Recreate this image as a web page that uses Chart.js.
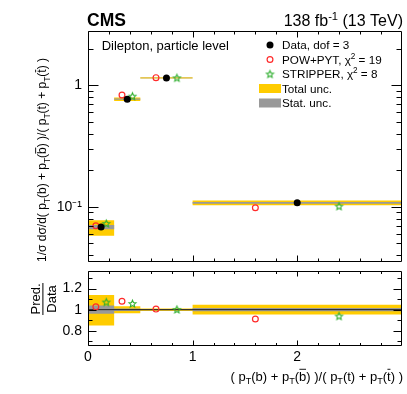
<!DOCTYPE html>
<html><head><meta charset="utf-8">
<script src="https://cdn.jsdelivr.net/npm/chart.js@4.4.1/dist/chart.umd.min.js"></script>
<style>
html,body{margin:0;padding:0;background:#fff;}
#wrap{position:relative;width:407px;height:394px;overflow:hidden;background:#fff;}
canvas{position:absolute;left:0;}
#cMain{top:0;}
#cRatio{top:266px;}
</style></head><body>
<div id="wrap">
<canvas id="cMain" width="407" height="267"></canvas>
<canvas id="cRatio" width="407" height="128"></canvas>
</div>
<script>
// ---- data ----
const binEdges = [0, 0.25, 0.5, 1, 3];
const dataVals = [0.068, 0.771, 1.153, 0.1077];
const powVals = [0.0698, 0.833, 1.159, 0.0982];
const stripVals = [0.0729, 0.816, 1.156, 0.1012];
const totUpRel = [0.14, 0.033, 0.012, 0.046];
const totDnRel = [0.15, 0.033, 0.012, 0.046];
const statRel = [0.04, 0.012, 0.005, 0.016];

const mainYMajor = [0.1, 1];
const mainYLabels = ['10\u207B\u00B9', '1'];
const mainYMinor = [0.04,0.05,0.06,0.07,0.08,0.09,0.2,0.3,0.4,0.5,0.6,0.7,0.8,0.9,2];
const ratioYMajor = [0.8, 1, 1.2];
const ratioYLabels = ['0.8', '1', '1.2'];
const ratioYMinor = [0.7, 0.9, 1.1, 1.3];
const xMajor = [0, 1, 2];
const xLabels = ['0', '1', '2'];
const xMinor = [0.2,0.4,0.6,0.8,1.2,1.4,1.6,1.8,2.2,2.4,2.6,2.8];

const legendLabels = ['Data, dof = 3', 'POW+PYT, \u03C7', 'STRIPPER, \u03C7', 'Total unc.', 'Stat. unc.'];
const chi2 = [null, '19', '8'];

const YELLOW = '#ffcc00', GRAY = '#999999', RED = '#ff2a2a', GREEN = '#2eae2e';
const FAM = '"Liberation Sans", Arial, Helvetica, sans-serif';

Chart.defaults.font.family = FAM;
Chart.defaults.color = '#000';

// ---- helpers ----
const centers = dataVals.map((_, i) => (binEdges[i] + binEdges[i+1]) / 2);
const widths = dataVals.map((_, i) => binEdges[i+1] - binEdges[i]);
const xPow = centers.map((c, i) => c - 0.2 * widths[i]);
const xStrip = centers.map((c, i) => c + 0.2 * widths[i]);
function stepPts(vals) {
  const pts = [];
  vals.forEach((v, i) => { pts.push({x: binEdges[i], y: v}, {x: binEdges[i+1], y: v}); });
  return pts;
}
function makeStar(color, r) {
  const s = Math.ceil(2 * r + 3);
  const c = document.createElement('canvas'); c.width = s; c.height = s;
  const g = c.getContext('2d'); g.strokeStyle = color; g.lineWidth = 1.1; g.beginPath();
  for (let i = 0; i < 10; i++) {
    const ang = -Math.PI / 2 + i * Math.PI / 5;
    const rr = i % 2 === 0 ? r : r * 0.45;
    const px = s / 2 + rr * Math.cos(ang), py = s / 2 + 0.4 + rr * Math.sin(ang);
    if (i) g.lineTo(px, py); else g.moveTo(px, py);
  }
  g.closePath(); g.stroke();
  return c;
}
const starImg = makeStar(GREEN, 3.7);

function drawRich(ctx, segs, x, y, fs, opts) {
  opts = opts || {};
  const weight = opts.bold ? 'bold ' : '';
  let total = 0;
  for (const s of segs) { const f = (s.sub || s.sup) ? fs * 0.7 : fs; ctx.font = weight + f + 'px ' + FAM; total += ctx.measureText(s.t).width; }
  if (opts.align === 'right') x -= total; else if (opts.align === 'center') x -= total / 2;
  ctx.textBaseline = 'alphabetic'; ctx.textAlign = 'left';
  for (const s of segs) {
    const f = (s.sub || s.sup) ? fs * 0.7 : fs;
    ctx.font = weight + f + 'px ' + FAM;
    const dy = s.sub ? fs * 0.3 : (s.sup ? -fs * 0.42 : 0);
    ctx.fillText(s.t, x, y + dy);
    const w = ctx.measureText(s.t).width;
    if (s.bar) ctx.fillRect(x + 0.3, y - fs * 0.9, w - 0.6, Math.max(0.9, fs * 0.07));
    x += w;
  }
  return total;
}
const T = {t: 'T', sub: 1};
const yTitleSegs = [{t: '1/\u03C3 d\u03C3/d( p'}, T, {t: '(b) + p'}, T, {t: '('}, {t: 'b', bar: 1}, {t: ') )/( p'}, T, {t: '(t) + p'}, T, {t: '('}, {t: 't', bar: 1}, {t: ') )'}];
const xTitleSegs = [{t: '( p'}, T, {t: '(b) + p'}, T, {t: '('}, {t: 'b', bar: 1}, {t: ') )/( p'}, T, {t: '(t) + p'}, T, {t: '('}, {t: 't', bar: 1}, {t: ') )'}];

function axesPlugin(o) {
  return { id: 'axes_' + o.name, afterDraw(chart) {
    const {ctx, chartArea: a} = chart; const xs = chart.scales.x, ys = chart.scales.y;
    ctx.save(); ctx.strokeStyle = '#000'; ctx.lineWidth = 1; ctx.beginPath();
    const L = Math.round(a.left) + 0.5, R = Math.round(a.right) - 0.5, Tp = Math.round(a.top) + 0.5, B = Math.round(a.bottom) - 0.5;
    ctx.rect(L, Tp, R - L, B - Tp);
    const xt = (vals, len) => { for (const v of vals) { const p = Math.round(xs.getPixelForValue(v)) + 0.5; ctx.moveTo(p, B); ctx.lineTo(p, B - len); ctx.moveTo(p, Tp); ctx.lineTo(p, Tp + len); } };
    const yt = (vals, len) => { for (const v of vals) { const p = Math.round(ys.getPixelForValue(v)) + 0.5; ctx.moveTo(L, p); ctx.lineTo(L + len, p); ctx.moveTo(R, p); ctx.lineTo(R - len, p); } };
    xt(xMajor, o.xMaj); xt(xMinor, o.xMin); yt(o.yMajor, o.yMaj); yt(o.yMinor, o.yMin);
    ctx.stroke(); ctx.restore();
    if (o.text) o.text(ctx, chart);
  }};
}

function bandDatasets(up, lo, color, order) {
  return [
    {data: stepPts(up), showLine: true, pointRadius: 0, borderWidth: 0, borderColor: 'rgba(0,0,0,0)', backgroundColor: color, fill: '+1', order: order},
    {data: stepPts(lo), showLine: true, pointRadius: 0, borderWidth: 0, borderColor: 'rgba(0,0,0,0)', backgroundColor: color, fill: false, order: order + 1}
  ];
}
function markerSets(xp, vp, xs, vs) {
  return [
    {data: xp.map((x, i) => ({x, y: vp[i]})), pointStyle: 'circle', pointRadius: 2.9, borderWidth: 1.2, borderColor: RED, backgroundColor: 'rgba(0,0,0,0)', order: 1},
    {data: xs.map((x, i) => ({x, y: vs[i]})), pointStyle: starImg, pointRadius: 4, order: 2}
  ];
}

// ---- main panel ----
const mainText = (ctx) => {
  ctx.save(); ctx.fillStyle = '#000';
  drawRich(ctx, [{t: 'CMS'}], 87, 26.3, 17.5, {bold: true});
  drawRich(ctx, [{t: '138 fb'}, {t: '-1', sup: 1}, {t: ' (13 TeV)'}], 403, 26.3, 16, {align: 'right'});
  drawRich(ctx, [{t: 'Dilepton, particle level'}], 101.7, 49.6, 13);
  const rows = [45, 59.5, 74, 88.5, 103]; const mx = 270, tx = 282, fs = 11.7;
  rows.forEach((ry, i) => {
    const segs = [{t: legendLabels[i]}];
    if (chi2[i]) { segs.push({t: '2', sup: 1}); segs.push({t: ' = ' + chi2[i]}); }
    ctx.fillStyle = '#000';
    drawRich(ctx, segs, tx, ry + fs * 0.36, fs);
  });
  ctx.fillStyle = '#000'; ctx.beginPath(); ctx.arc(mx, rows[0], 3.5, 0, 2 * Math.PI); ctx.fill();
  ctx.strokeStyle = RED; ctx.lineWidth = 1.2; ctx.beginPath(); ctx.arc(mx, rows[1], 2.9, 0, 2 * Math.PI); ctx.stroke();
  ctx.drawImage(starImg, mx - starImg.width / 2, rows[2] - starImg.height / 2);
  ctx.fillStyle = YELLOW; ctx.fillRect(259, rows[3] - 4.5, 22, 9);
  ctx.fillStyle = GRAY; ctx.fillRect(259, rows[4] - 4.5, 22, 9);
  // y title
  ctx.fillStyle = '#000'; ctx.translate(46, 160); ctx.rotate(-Math.PI / 2);
  drawRich(ctx, yTitleSegs, 0, 0, 12, {align: 'center'});
  ctx.restore();
};

new Chart(document.getElementById('cMain'), {
  type: 'scatter',
  data: { datasets: [
    {data: centers.map((x, i) => ({x, y: dataVals[i]})), pointStyle: 'circle', pointRadius: 3.5, borderWidth: 0, backgroundColor: '#000', borderColor: '#000', order: 0},
    ...markerSets(xPow, powVals, xStrip, stripVals),
    ...bandDatasets(dataVals.map((v, i) => v * (1 + statRel[i])), dataVals.map((v, i) => v * (1 - statRel[i])), GRAY, 5),
    ...bandDatasets(dataVals.map((v, i) => v * (1 + totUpRel[i])), dataVals.map((v, i) => v * (1 - totDnRel[i])), YELLOW, 8)
  ]},
  options: {
    responsive: false, animation: false, devicePixelRatio: 1, events: [],
    layout: {padding: {top: 31, left: 0, right: 3, bottom: 0}},
    plugins: {legend: {display: false}, tooltip: {enabled: false}},
    scales: {
      x: {type: 'linear', min: 0, max: 3, display: false},
      y: {type: 'logarithmic', min: 0.0352, max: 2.81, position: 'left',
        afterFit(s) { s.width = 88; s.paddingTop = 0; s.paddingBottom = 0; },
        afterBuildTicks(s) { s.ticks = mainYMajor.map(v => ({value: v})); },
        ticks: {callback: v => { const i = mainYMajor.indexOf(v); return i >= 0 ? mainYLabels[i] : ''; }, font: {size: 14}, padding: 6, autoSkip: false, maxRotation: 0},
        grid: {display: false, drawTicks: false}, border: {display: false}}
    }
  },
  plugins: [axesPlugin({name: 'main', yMajor: mainYMajor, yMinor: mainYMinor, xMaj: 6, xMin: 3, yMaj: 10, yMin: 5, text: mainText})]
});

// ---- ratio panel ----
const ratioText = (ctx) => {
  ctx.save(); ctx.fillStyle = '#000';
  drawRich(ctx, xTitleSegs, 403, 114.5, 13, {align: 'right'});
  ctx.translate(43, 33); ctx.rotate(-Math.PI / 2);
  ctx.font = '13px ' + FAM; ctx.textAlign = 'center';
  ctx.textBaseline = 'alphabetic'; ctx.fillText('Pred.', 0, -3);
  ctx.textBaseline = 'top'; ctx.fillText('Data', 0, 2.5);
  ctx.fillRect(-16, -0.6, 32, 1);
  ctx.restore();
};

new Chart(document.getElementById('cRatio'), {
  type: 'scatter',
  data: { datasets: [
    ...markerSets(xPow, powVals.map((v, i) => v / dataVals[i]), xStrip, stripVals.map((v, i) => v / dataVals[i])),
    {data: [{x: binEdges[0], y: 1}, {x: binEdges[binEdges.length - 1], y: 1}], showLine: true, pointRadius: 0, borderWidth: 1, borderColor: '#222', order: 3},
    ...bandDatasets(statRel.map(r => 1 + r), statRel.map(r => 1 - r), GRAY, 5),
    ...bandDatasets(totUpRel.map(r => 1 + r), totDnRel.map(r => 1 - r), YELLOW, 8)
  ]},
  options: {
    responsive: false, animation: false, devicePixelRatio: 1, events: [],
    layout: {padding: {top: 0, left: 0, right: 3, bottom: 0}},
    plugins: {legend: {display: false}, tooltip: {enabled: false}},
    scales: {
      x: {type: 'linear', min: 0, max: 3, position: 'bottom',
        afterFit(s) { s.height = 48; s.paddingLeft = 0; s.paddingRight = 0; },
        afterBuildTicks(s) { s.ticks = xMajor.map(v => ({value: v})); },
        ticks: {callback: v => { const i = xMajor.indexOf(v); return i >= 0 ? xLabels[i] : ''; }, font: {size: 14}, padding: 3, autoSkip: false, maxRotation: 0},
        grid: {display: false, drawTicks: false}, border: {display: false}},
      y: {type: 'linear', min: 0.655, max: 1.365, position: 'left',
        afterFit(s) { s.width = 88; s.paddingTop = 0; s.paddingBottom = 0; },
        afterBuildTicks(s) { s.ticks = ratioYMajor.map(v => ({value: v})); },
        ticks: {callback: v => { const i = ratioYMajor.indexOf(v); return i >= 0 ? ratioYLabels[i] : ''; }, font: {size: 14}, padding: 6, autoSkip: false},
        grid: {display: false, drawTicks: false}, border: {display: false}}
    }
  },
  plugins: [axesPlugin({name: 'ratio', yMajor: ratioYMajor, yMinor: ratioYMinor, xMaj: 5, xMin: 2.5, yMaj: 8, yMin: 4, text: ratioText})]
});
</script>
</body></html>
